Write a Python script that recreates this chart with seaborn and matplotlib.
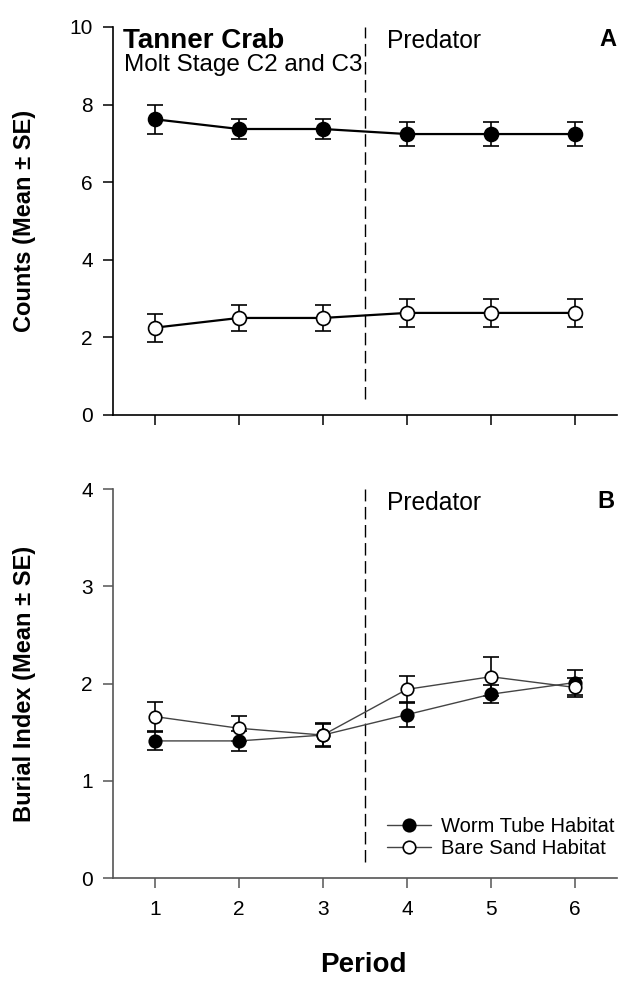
import numpy as np
import pandas as pd
import matplotlib
matplotlib.use("Agg")
import matplotlib.pyplot as plt
import seaborn as sns

# data
period = [1, 2, 3, 4, 5, 6]

counts_worm = [7.62, 7.37, 7.37, 7.24, 7.24, 7.24]
counts_worm_se = [0.38, 0.26, 0.26, 0.30, 0.30, 0.30]
counts_sand = [2.25, 2.50, 2.50, 2.63, 2.63, 2.63]
counts_sand_se = [0.36, 0.33, 0.33, 0.36, 0.36, 0.36]

burial_worm = [1.41, 1.41, 1.47, 1.68, 1.89, 2.01]
burial_worm_se = [0.09, 0.10, 0.11, 0.13, 0.09, 0.13]
burial_sand = [1.66, 1.54, 1.47, 1.94, 2.07, 1.96]
burial_sand_se = [0.15, 0.13, 0.12, 0.14, 0.20, 0.10]

habitats = ["Worm Tube Habitat", "Bare Sand Habitat"]

sns.set_style("ticks")
plt.rcParams["font.family"] = ["Liberation Sans", "DejaVu Sans"]
plt.rcParams["text.color"] = "black"
plt.rcParams["axes.labelcolor"] = "black"
plt.rcParams["xtick.color"] = "black"
plt.rcParams["ytick.color"] = "black"

fig = plt.figure(figsize=(6.23, 9.84), dpi=100)
ax1 = fig.add_axes([0.1814, 0.5783, 0.8086, 0.3943])
ax2 = fig.add_axes([0.1814, 0.1077, 0.8086, 0.3953])


def draw_series(ax, y, se, face, lw, ms, cap, lc, label):
    df = pd.DataFrame({"period": period, "value": y})
    ax.errorbar(period, y, yerr=se, fmt="none", ecolor="black", elinewidth=1.2,
                capsize=cap, capthick=1.2, zorder=2)
    sns.lineplot(data=df, x="period", y="value", ax=ax, color=lc, linewidth=lw,
                 marker="o", markersize=ms, markerfacecolor=face,
                 markeredgecolor="black", markeredgewidth=1.2, label=label,
                 zorder=3)


draw_series(ax1, counts_worm, counts_worm_se, "black", 1.6, 10, 6, "black", habitats[0])
draw_series(ax1, counts_sand, counts_sand_se, "white", 1.6, 10, 6, "black", habitats[1])
draw_series(ax2, burial_worm, burial_worm_se, "black", 1.0, 9, 5.5, "#444444", habitats[0])
draw_series(ax2, burial_sand, burial_sand_se, "white", 1.0, 9, 5.5, "#444444", habitats[1])

ax1.get_legend().remove()

for ax, ymax, vbot, sc in [(ax1, 10, 0.4, "black"), (ax2, 4, 0.16, "#555555")]:
    ax.set_xlim(0.5, 6.5)
    ax.set_ylim(0, ymax)
    ax.set_xticks(period)
    ax.plot([3.5, 3.5], [vbot, ymax], color="black", linewidth=1,
            linestyle=(0, (9, 4)), zorder=1)
    ax.text(3.76, ymax * 0.995, "Predator", fontsize=17.7, va="top", ha="left")
    sns.despine(ax=ax)
    for side in ["left", "bottom"]:
        ax.spines[side].set_linewidth(1.2)
        ax.spines[side].set_color(sc)
    ax.tick_params(direction="out", length=7.5, width=1.1, labelsize=15,
                   color=sc, labelcolor="black")
    ax.tick_params(axis="y", pad=7)
    ax.tick_params(axis="x", pad=8)
    ax.set_xlabel("")

ax1.set_yticks([0, 2, 4, 6, 8, 10])
ax1.set_xticklabels([])
ax2.set_yticks([0, 1, 2, 3, 4])

ax1.text(0.62, 9.97, "Tanner Crab", fontsize=20, fontweight="bold", va="top")
ax1.text(0.63, 9.3, "Molt Stage C2 and C3", fontsize=17.5, va="top")
ax1.text(6.5, 9.97, "A", fontsize=17, fontweight="bold", ha="right", va="top")
ax2.text(6.47, 3.99, "B", fontsize=17, fontweight="bold", ha="right", va="top")

ax1.set_ylabel("Counts (Mean ± SE)", fontsize=17, fontweight="bold")
ax2.set_ylabel("Burial Index (Mean ± SE)", fontsize=17, fontweight="bold")
ax1.yaxis.set_label_coords(-0.152, 0.5)
ax2.yaxis.set_label_coords(-0.152, 0.5)
fig.text(0.583, 0.006, "Period", fontsize=20, fontweight="bold", ha="center", va="bottom")

leg = ax2.legend(loc="lower right", frameon=False, fontsize=14.5,
                 handlelength=2.2, handletextpad=0.5, labelspacing=0.15,
                 bbox_to_anchor=(1.02, 0.02), borderaxespad=0.2)

fig.savefig("out.png", dpi=100)
